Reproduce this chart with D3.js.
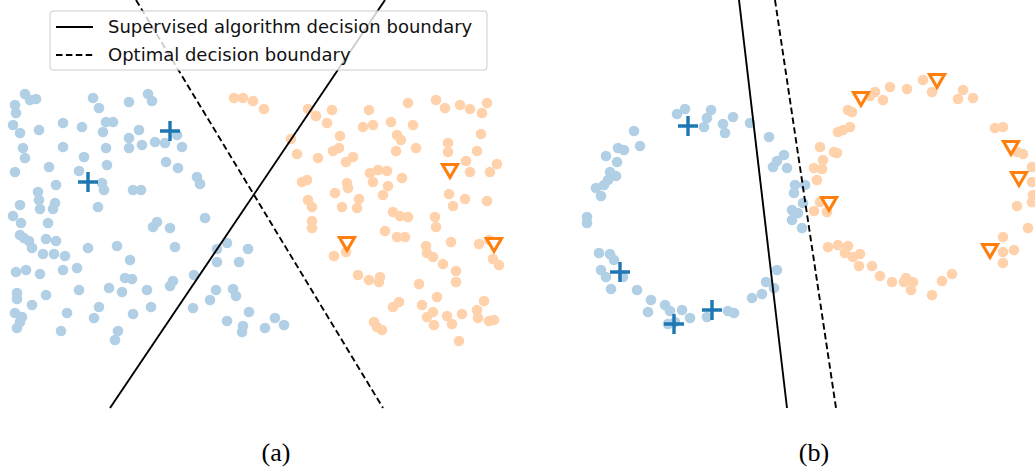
<!DOCTYPE html>
<html>
<head>
<meta charset="utf-8">
<script src="https://cdn.jsdelivr.net/npm/d3@7"></script>
<style>
  html, body { margin: 0; padding: 0; background: #fff; }
  svg { display: block; }
</style>
</head>
<body>
<svg id="chart" width="1035" height="473"></svg>
<script>
// ---- Panel (a): two linearly separable blobs (feature units, y grows downward) ----
const aClass0 = [
  [2.5,9.4],[3.0,10.0],[3.6,9.9],[1.5,10.5],[1.6,11.3],[9.3,9.8],[9.9,10.8],[12.9,10.2],[14.8,9.4],[15.2,10.1],
  [1.3,12.5],[2.0,13.3],[3.9,13.0],[6.3,12.3],[8.2,12.7],[10.6,12.2],[11.3,12.2],[10.3,13.2],[13.9,13.0],[12.9,13.8],
  [12.9,14.8],[14.2,14.5],[15.5,14.2],[16.5,14.3],[2.3,14.8],[2.5,15.8],[6.3,14.7],[10.6,14.8],[8.4,15.7],[4.9,16.7],
  [1.5,17.2],[7.9,17.1],[10.7,16.5],[16.6,16.2],[5.6,18.5],[10.2,18.3],[10.4,19.0],[3.8,19.2],[13.3,19.0],[14.1,19.0],
  [3.9,20.0],[4.0,20.9],[5.5,20.3],[5.3,20.9],[2.0,20.5],[9.8,20.7],[1.3,21.6],
  [2.1,22.3],[4.8,22.3],[2.0,23.5],[2.4,23.8],[2.9,24.1],[3.2,24.8],[4.6,23.9],[5.6,24.1],[4.3,25.4],[5.4,25.4],
  [6.5,25.6],[8.8,24.8],[11.7,24.6],[13.0,26.0],[1.6,27.2],[2.6,27.0],[4.0,27.4],[6.3,27.0],[7.7,26.8],[12.5,27.8],
  [13.2,27.9],[7.9,29.0],[10.9,28.8],[12.2,29.2],[14.7,29.0],[17.0,28.6],[1.7,29.3],[1.7,29.9],[4.6,29.5],[3.2,30.5],
  [9.9,30.7],[15.1,30.7],[1.5,31.3],[2.2,31.7],[2.0,32.2],[1.7,32.8],[6.7,31.3],[9.4,31.8],[13.3,31.4],[6.1,33.1],
  [11.8,33.1],[11.5,34.0],[15.3,22.7],[15.7,22.2],[17.0,22.8],
  [17.7,13.5],[18.2,14.7],[17.8,16.8],[19.7,17.7],[20.0,18.4],[20.5,21.8],
  [17.5,24.7],[21.7,24.9],[22.7,24.3],[24.8,24.9],[21.7,26.2],[23.9,26.2],[19.4,27.5],[17.3,28.1],[21.6,29.0],
  [21.0,30.0],[23.3,28.9],[23.6,29.6],[19.3,30.8],[24.9,31.2],[22.7,32.1],[24.3,32.6],[24.2,33.2],[26.5,32.8],
  [27.5,31.8],[28.4,32.5]
];
const aClass1 = [
  [23.4,9.8],[24.3,9.8],[25.3,10.1],[26.4,10.9],[30.8,10.9],[31.6,11.6],[32.7,12.3],[33.2,11.0],[29.1,13.9],[29.7,15.4],
  [31.8,15.8],[33.3,15.1],[30.2,18.2],[30.7,18.0],[30.8,20.0],[31.2,20.7],[31.2,22.1],[31.2,22.8],[33.4,25.6],
  [36.9,11.0],[36.3,12.7],[37.3,12.5],[39.1,12.2],[40.8,10.3],[41.3,12.5],[43.6,10.0],[44.5,10.8],[46.0,10.5],[47.0,10.9],
  [48.2,11.3],[48.7,10.3],[34.0,13.6],[33.9,14.8],[34.6,16.2],[35.3,15.7],[39.7,13.5],[40.1,14.0],[39.6,15.1],[41.6,14.8],
  [44.8,14.3],[44.8,15.2],[48.1,13.4],[47.7,15.1],[46.6,16.1],[49.7,16.4],[49.0,17.2],[47.0,17.2],[37.0,17.3],[37.8,17.0],
  [38.7,17.1],[37.3,18.2],[40.2,17.8],[38.8,18.6],[34.7,18.3],[34.8,18.8],[33.5,19.3],[38.3,19.5],[35.9,19.9],[35.7,20.8],
  [34.2,20.7],[44.9,19.4],[45.3,20.6],[46.5,19.9],[48.7,20.1],[39.3,21.2],[40.0,21.6],[40.8,21.7],[43.5,21.7],
  [43.6,22.7],[38.5,23.1],[39.7,23.7],[40.5,23.7],[45.1,24.2],[42.6,24.6],[42.7,25.3],[43.3,25.7],[44.3,26.4],[45.6,27.1],
  [45.6,28.2],[47.9,24.4],[48.9,24.0],[49.3,25.9],[49.9,26.5],[34.6,25.2],[35.8,27.5],[36.9,28.0],[38.0,27.7],[37.9,28.2],
  [41.9,28.4],[43.7,29.7],[39.3,30.7],[39.9,30.2],[42.2,30.5],[42.7,31.7],[43.3,31.2],[43.4,32.5],[44.7,31.6],[45.2,32.4],
  [46.2,31.4],[47.7,31.0],[47.8,31.8],[48.4,30.1],[48.9,32.1],[49.4,32.0],[37.4,32.2],[37.7,32.7],[38.2,33.0],[45.9,34.1]
];
const aLabeled0 = [[17.0,13.1],[8.8,18.2]];
const aLabeled1 = [[45.0,17.0],[34.7,24.3],[49.4,24.4]];
const aSupervised = [[11.0,40.8],[38.5,0.0]];
const aOptimal = [[13.6,0.0],[38.3,40.8]];

// ---- Panel (b): two interleaved rings ----
const bClass0 = [
  [67.7,11.4],[68.5,10.9],[63.4,13.1],[64.0,14.6],[61.8,14.8],[62.4,15.0],[60.6,15.6],[61.7,16.2],[61.0,17.2],[61.6,17.6],
  [60.8,18.0],[60.4,18.5],[59.6,18.8],[60.1,19.6],[58.7,21.7],[58.7,22.3],[59.9,25.3],[61.0,25.4],[61.4,26.0],[60.1,27.0],
  [60.6,27.7],[62.3,27.7],[61.1,28.9],[63.7,29.0],[65.1,30.0],[64.8,31.2],[66.5,30.5],[67.0,31.1],[66.8,32.4],[68.2,31.0],
  [69.0,31.8],[67.5,32.2],
  [71.1,11.0],[70.7,11.8],[70.4,12.7],[72.3,12.4],[72.5,13.3],[73.3,11.7],[75.0,12.3],[76.9,13.7],[78.4,15.5],[77.7,16.1],
  [77.3,16.7],[78.7,16.8],[79.5,18.5],[80.5,18.5],[79.4,19.3],[80.3,20.3],[79.2,21.0],[79.8,21.3],[79.2,22.0],[80.2,22.8],
  [77.7,27.0],[76.6,28.2],[77.4,28.8],[76.2,29.4],[75.2,29.8],[72.8,31.1],[73.4,31.3],[70.7,31.7]
];
const bClass1 = [
  [82.0,14.7],[83.4,15.2],[82.3,16.0],[81.4,16.8],[82.2,16.9],[81.7,18.0],[83.8,13.2],[82.0,20.2],[81.4,21.1],[82.7,21.2],
  [82.8,24.7],[83.8,24.5],
  [92.3,8.0],[93.2,9.2],[90.7,8.9],[89.0,8.7],[88.3,10.0],[87.5,9.2],[87.0,9.6],[84.8,11.0],[85.2,11.2],[85.0,12.7],
  [84.3,13.0],[83.7,15.3],[96.3,9.0],[97.3,9.8],[95.8,9.9],[99.5,12.8],[100.3,12.7],[101.7,15.2],[102.3,15.4],[103.2,16.7],
  [103.2,18.2],[103.3,19.5],
  [84.8,24.6],[84.5,25.3],[85.3,25.7],[86.0,25.4],[85.9,26.6],[87.2,26.6],[88.0,27.6],[89.2,28.2],[90.6,27.8],[90.4,28.2],
  [91.3,28.2],[91.1,29.0],[93.2,29.5],[94.2,28.1],[95.2,27.4],[100.3,23.7],[100.3,25.2],[100.3,26.3],[101.4,25.0],
  [102.8,22.8],[101.7,20.6],[103.2,20.2]
];
const bLabeled0 = [[68.8,12.6],[62.0,27.2],[67.4,32.4],[71.2,31.0]];
const bLabeled1 = [[86.1,9.8],[93.7,8.0],[82.9,20.3],[101.1,14.7],[101.9,17.8],[99.0,25.0]];
const bSupervised = [[73.9,0.0],[78.7,40.8]];
const bOptimal = [[77.5,0.0],[83.6,40.8]];

const legendLabels = ["Supervised algorithm decision boundary", "Optimal decision boundary"];
const panelLabels = ["(a)", "(b)"];

// ---- styling ----
const lightBlue = "#b1cfe5", lightOrange = "#ffd2ab";
const darkBlue = "#1f77b4", darkOrange = "#ff7f0e";
const dashPattern = "6.5,3.4";
const lineWidth = 1.9;

const svg = d3.select("#chart");
svg.append("rect").attr("width", 1035).attr("height", 473).attr("fill", "#fff");

function drawPanel(cfg) {
  const x = d3.scaleLinear().domain(cfg.xDomain).range(cfg.xRange);
  const y = d3.scaleLinear().domain(cfg.yDomain).range(cfg.yRange);
  const g = svg.append("g");

  g.selectAll("circle.c0").data(cfg.class0).join("circle").attr("class", "c0")
    .attr("cx", d => x(d[0])).attr("cy", d => y(d[1])).attr("r", 5.3).attr("fill", lightBlue);
  g.selectAll("circle.c1").data(cfg.class1).join("circle").attr("class", "c1")
    .attr("cx", d => x(d[0])).attr("cy", d => y(d[1])).attr("r", 5.3).attr("fill", lightOrange);

  const line = d3.line().x(d => x(d[0])).y(d => y(d[1]));
  g.append("path").attr("d", line(cfg.supervised)).attr("fill", "none")
    .attr("stroke", "#000").attr("stroke-width", lineWidth);
  g.append("path").attr("d", line(cfg.optimal)).attr("fill", "none")
    .attr("stroke", "#000").attr("stroke-width", lineWidth).attr("stroke-dasharray", dashPattern);

  // labeled samples: plus for class 0, hollow down-triangle for class 1
  g.selectAll("path.lab0").data(cfg.labeled0).join("path").attr("class", "lab0")
    .attr("d", d => {
      const cx = x(d[0]), cy = y(d[1]), h = 10;
      return `M${cx - h},${cy}L${cx + h},${cy}M${cx},${cy - h}L${cx},${cy + h}`;
    })
    .attr("stroke", darkBlue).attr("stroke-width", 3.4).attr("fill", "none");
  g.selectAll("path.lab1").data(cfg.labeled1).join("path").attr("class", "lab1")
    .attr("d", d => {
      const cx = x(d[0]), cy = y(d[1]);
      return `M${cx - 7.5},${cy - 5.5}L${cx + 7.5},${cy - 5.5}L${cx},${cy + 7.5}Z`;
    })
    .attr("stroke", darkOrange).attr("stroke-width", 3.1).attr("stroke-linejoin", "miter")
    .attr("fill", "#fff");

  svg.append("text").attr("x", cfg.labelX).attr("y", 461)
    .attr("text-anchor", "middle")
    .attr("font-family", "'Liberation Serif', 'Times New Roman', serif")
    .attr("font-size", 26).attr("fill", "#000").text(cfg.label);
}

drawPanel({
  xDomain: [0, 50], xRange: [0, 500], yDomain: [0, 40.8], yRange: [0, 408],
  class0: aClass0, class1: aClass1, labeled0: aLabeled0, labeled1: aLabeled1,
  supervised: aSupervised, optimal: aOptimal, label: panelLabels[0], labelX: 276
});
drawPanel({
  xDomain: [54, 104], xRange: [540, 1040], yDomain: [0, 40.8], yRange: [0, 408],
  class0: bClass0, class1: bClass1, labeled0: bLabeled0, labeled1: bLabeled1,
  supervised: bSupervised, optimal: bOptimal, label: panelLabels[1], labelX: 814
});

// ---- legend ----
const lg = svg.append("g");
lg.append("rect").attr("x", 50).attr("y", 11).attr("width", 437).attr("height", 59)
  .attr("rx", 3).attr("fill", "#fff").attr("fill-opacity", 0.8)
  .attr("stroke", "#cccccc").attr("stroke-width", 1);
legendLabels.forEach((t, i) => {
  const yy = 27 + i * 28;
  lg.append("line").attr("x1", 56).attr("x2", 93).attr("y1", yy).attr("y2", yy)
    .attr("stroke", "#000").attr("stroke-width", lineWidth)
    .attr("stroke-dasharray", i === 1 ? dashPattern : null);
  lg.append("text").attr("x", 108).attr("y", yy + 6.3)
    .attr("font-family", "'DejaVu Sans', sans-serif").attr("font-size", 18)
    .attr("fill", "#111").text(t);
});
</script>
</body>
</html>
